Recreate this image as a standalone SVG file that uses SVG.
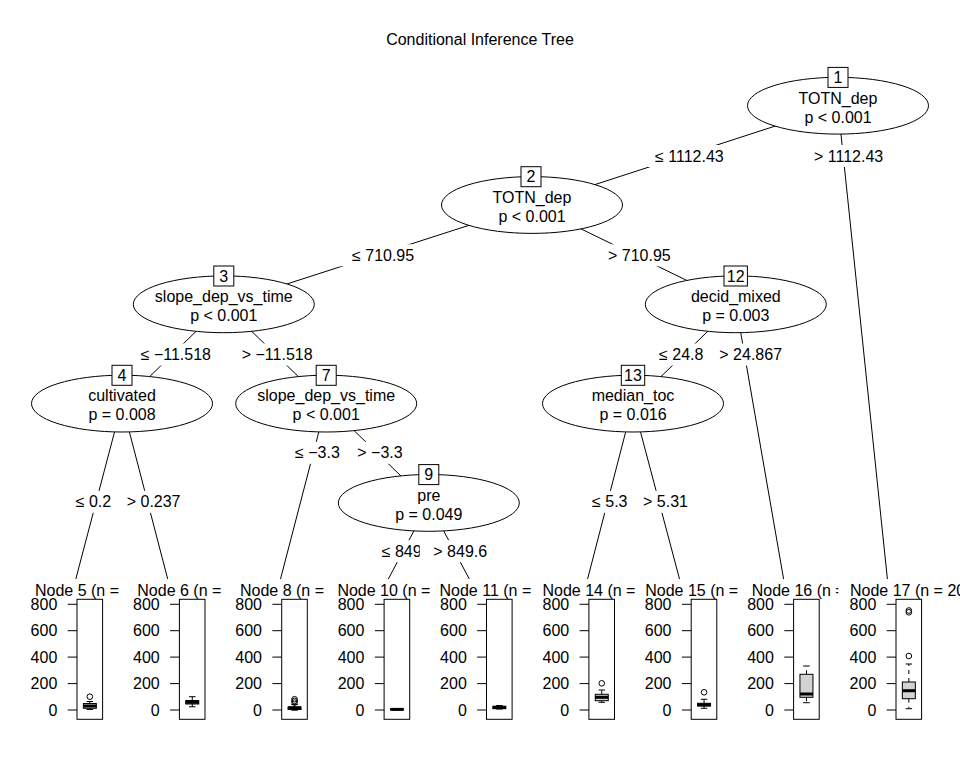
<svg xmlns="http://www.w3.org/2000/svg" xmlns:xlink="http://www.w3.org/1999/xlink" width="960" height="768" viewBox="0 0 960 768">
<style>
text{font-family:"Liberation Sans",Arial,sans-serif;font-size:16px;fill:#000}
.m{text-anchor:middle}
.e{text-anchor:end}
.edge line{stroke:#000;stroke-width:1}
.ell{fill:#fff;stroke:#000;stroke-width:1}
.nb{fill:#fff;stroke:#000;stroke-width:1}
.lbg{fill:#fff;stroke:none}
.frame{fill:none;stroke:#000;stroke-width:1}
.tick{stroke:#000;stroke-width:1}
.bx{fill:#d3d3d3;stroke:#000;stroke-width:1}
.med{stroke:#000;stroke-width:3}
.wh{stroke:#000;stroke-width:1;stroke-dasharray:4 4}
.cap{stroke:#000;stroke-width:1}
.out{fill:none;stroke:#000;stroke-width:1}
</style>
<defs>
<g id="axis">
<rect class="frame" x="0" y="599.3" width="25.6" height="120"/>
<line class="tick" x1="-9.3" y1="604.3" x2="0" y2="604.3"/>
<line class="tick" x1="-9.3" y1="630.7" x2="0" y2="630.7"/>
<line class="tick" x1="-9.3" y1="657.1" x2="0" y2="657.1"/>
<line class="tick" x1="-9.3" y1="683.6" x2="0" y2="683.6"/>
<line class="tick" x1="-9.3" y1="710" x2="0" y2="710"/>
<text class="e" x="-19.7" y="610">800</text>
<text class="e" x="-19.7" y="636.4">600</text>
<text class="e" x="-19.7" y="662.8">400</text>
<text class="e" x="-19.7" y="689.3">200</text>
<text class="e" x="-19.7" y="715.7">0</text>
</g>
<clipPath id="c16"><rect x="740" y="570" width="98.3" height="40"/></clipPath>
</defs>
<rect x="0" y="0" width="960" height="768" fill="#fff"/>
<text class="m" x="480" y="45">Conditional Inference Tree</text>

<g id="connectors" class="edge">
<line x1="838" y1="105.7" x2="532" y2="205"/>
<line x1="838" y1="105.7" x2="887.4" y2="579"/>
<line x1="532" y1="205" x2="223.8" y2="304.3"/>
<line x1="532" y1="205" x2="735.8" y2="304.3"/>
<line x1="223.8" y1="304.3" x2="122" y2="403.6"/>
<line x1="223.8" y1="304.3" x2="326.2" y2="403.6"/>
<line x1="122" y1="403.6" x2="75.8" y2="579"/>
<line x1="122" y1="403.6" x2="167.7" y2="579"/>
<line x1="326.2" y1="403.6" x2="280.5" y2="579"/>
<line x1="326.2" y1="403.6" x2="428.8" y2="502.9"/>
<line x1="428.8" y1="502.9" x2="388.3" y2="579"/>
<line x1="428.8" y1="502.9" x2="469.3" y2="579"/>
<line x1="735.8" y1="304.3" x2="633" y2="403.6"/>
<line x1="735.8" y1="304.3" x2="783.6" y2="579"/>
<line x1="633" y1="403.6" x2="587.6" y2="579"/>
<line x1="633" y1="403.6" x2="679.5" y2="579"/>
<!-- edge labels -->
<rect class="lbg" x="641.5" y="145" width="98.1" height="22"/><text x="655" y="161.5">≤ 1112.43</text>
<rect class="lbg" x="800.5" y="145" width="98.6" height="22"/><text x="814" y="161.5">&gt; 1112.43</text>
<rect class="lbg" x="338.5" y="244.3" width="89.2" height="22"/><text x="352" y="260.8">≤ 710.95</text>
<rect class="lbg" x="594.5" y="244.3" width="89.7" height="22"/><text x="608" y="260.8">&gt; 710.95</text>
<rect class="lbg" x="127.2" y="343.5" width="98.5" height="22"/><text x="140.7" y="360">≤ −11.518</text>
<rect class="lbg" x="228.2" y="343.5" width="99.1" height="22"/><text x="241.7" y="360">&gt; −11.518</text>
<rect class="lbg" x="645.5" y="343.5" width="71.4" height="22"/><text x="659" y="360">≤ 24.8</text>
<rect class="lbg" x="705.8" y="343.5" width="89.7" height="22"/><text x="719.3" y="360">&gt; 24.867</text>
<rect class="lbg" x="62.2" y="490.8" width="62.5" height="22"/><text x="75.7" y="507.3">≤ 0.2</text>
<rect class="lbg" x="113.2" y="490.8" width="80.8" height="22"/><text x="126.7" y="507.3">&gt; 0.237</text>
<rect class="lbg" x="578.5" y="490.8" width="62.5" height="22"/><text x="592" y="507.3">≤ 5.3</text>
<rect class="lbg" x="629.5" y="490.8" width="71.9" height="22"/><text x="643" y="507.3">&gt; 5.31</text>
<rect class="lbg" x="281.5" y="441.8" width="71.8" height="22"/><text x="295" y="458.3">≤ −3.3</text>
<rect class="lbg" x="343.8" y="441.8" width="72.4" height="22"/><text x="357.3" y="458.3">&gt; −3.3</text>
<rect class="lbg" x="368.2" y="540.2" width="66.9" height="22"/><text x="381.7" y="556.7">≤ 849</text>
<rect class="lbg" x="419.8" y="540.2" width="80.8" height="22"/><text x="433.3" y="556.7">&gt; 849.6</text>
</g>

<g id="node1">
<ellipse class="ell" cx="838" cy="105.7" rx="90.5" ry="28.4"/>
<text class="m" x="838" y="103.5">TOTN_dep</text><text class="m" x="838" y="122.5">p &lt; 0.001</text>
<rect class="nb" x="828" y="67.4" width="20" height="20"/><text class="m" x="838" y="83.1">1</text>
</g>
<g id="node2">
<ellipse class="ell" cx="532" cy="205" rx="90.5" ry="28.4"/>
<text class="m" x="532" y="202.8">TOTN_dep</text><text class="m" x="532" y="221.8">p &lt; 0.001</text>
<rect class="nb" x="521" y="166.7" width="20" height="20"/><text class="m" x="531" y="182.4">2</text>
</g>
<g id="node3">
<ellipse class="ell" cx="223.8" cy="304.3" rx="90.5" ry="28.4"/>
<text class="m" x="223.8" y="302.1">slope_dep_vs_time</text><text class="m" x="223.8" y="321.1">p &lt; 0.001</text>
<rect class="nb" x="213.8" y="266" width="20" height="20"/><text class="m" x="223.8" y="281.7">3</text>
</g>
<g id="node4">
<ellipse class="ell" cx="122" cy="403.6" rx="90.5" ry="28.4"/>
<text class="m" x="122" y="401.4">cultivated</text><text class="m" x="122" y="420.4">p = 0.008</text>
<rect class="nb" x="112" y="365.3" width="20" height="20"/><text class="m" x="122" y="381">4</text>
</g>
<g id="node7">
<ellipse class="ell" cx="326.2" cy="403.6" rx="90.5" ry="28.4"/>
<text class="m" x="326.2" y="401.4">slope_dep_vs_time</text><text class="m" x="326.2" y="420.4">p &lt; 0.001</text>
<rect class="nb" x="316.2" y="365.3" width="20" height="20"/><text class="m" x="326.2" y="381">7</text>
</g>
<g id="node9">
<ellipse class="ell" cx="428.8" cy="502.9" rx="90.5" ry="28.4"/>
<text class="m" x="428.8" y="500.7">pre</text><text class="m" x="428.8" y="519.7">p = 0.049</text>
<rect class="nb" x="418.8" y="464.6" width="20" height="20"/><text class="m" x="428.8" y="480.3">9</text>
</g>
<g id="node12">
<ellipse class="ell" cx="735.8" cy="304.3" rx="90.5" ry="28.4"/>
<text class="m" x="735.8" y="302.1">decid_mixed</text><text class="m" x="735.8" y="321.1">p = 0.003</text>
<rect class="nb" x="724" y="266" width="23.4" height="20"/><text class="m" x="735.7" y="281.7">12</text>
</g>
<g id="node13">
<ellipse class="ell" cx="633" cy="403.6" rx="90.5" ry="28.4"/>
<text class="m" x="633" y="401.4">median_toc</text><text class="m" x="633" y="420.4">p = 0.016</text>
<rect class="nb" x="621.3" y="365.3" width="23.4" height="20"/><text class="m" x="633" y="381">13</text>
</g>

<g id="node5">
<text x="35" y="596">Node 5 (n =</text>
<use xlink:href="#axis" transform="translate(77,0)"/>
<line class="wh" x1="89.85" y1="703.5" x2="89.85" y2="701.5"/><line class="cap" x1="86.6" y1="701.5" x2="93.1" y2="701.5"/>
<line class="wh" x1="89.85" y1="708.3" x2="89.85" y2="709.5"/><line class="cap" x1="86.6" y1="709.5" x2="93.1" y2="709.5"/>
<rect class="bx" x="83.35" y="703.5" width="13" height="4.8"/>
<line class="med" x1="83.35" y1="706" x2="96.35" y2="706"/>
<circle class="out" cx="89.85" cy="696.7" r="2.8"/>
</g>
<g id="node6">
<text x="137.3" y="596">Node 6 (n =</text>
<use xlink:href="#axis" transform="translate(179.4,0)"/>
<line class="wh" x1="192.25" y1="700.5" x2="192.25" y2="696.7"/><line class="cap" x1="189" y1="696.7" x2="195.5" y2="696.7"/>
<line class="wh" x1="192.25" y1="704" x2="192.25" y2="706.8"/><line class="cap" x1="189" y1="706.8" x2="195.5" y2="706.8"/>
<rect class="bx" x="185.75" y="700.5" width="13" height="3.5"/>
<line class="med" x1="185.75" y1="702.3" x2="198.75" y2="702.3"/>
</g>
<g id="node8">
<text x="240" y="596">Node 8 (n =</text>
<use xlink:href="#axis" transform="translate(281.7,0)"/>
<line class="wh" x1="294.55" y1="707" x2="294.55" y2="704.5"/><line class="cap" x1="291.3" y1="704.5" x2="297.8" y2="704.5"/>
<line class="wh" x1="294.55" y1="709.5" x2="294.55" y2="710.2"/><line class="cap" x1="291.3" y1="710.2" x2="297.8" y2="710.2"/>
<rect class="bx" x="288.05" y="707" width="13" height="2.5"/>
<line class="med" x1="288.05" y1="707.8" x2="301.05" y2="707.8"/>
<circle class="out" cx="294.55" cy="699.2" r="2.8"/>
<circle class="out" cx="294.55" cy="700.9" r="2.8"/>
<circle class="out" cx="294.55" cy="702.6" r="2.8"/>
</g>
<g id="node10">
<text x="337.4" y="596">Node 10 (n =</text>
<use xlink:href="#axis" transform="translate(384.1,0)"/>
<line class="cap" x1="393.7" y1="708.8" x2="400.2" y2="708.8"/>
<line class="cap" x1="393.7" y1="710" x2="400.2" y2="710"/>
<rect class="bx" x="390.45" y="709" width="13" height="0.8"/>
<line class="med" x1="390.45" y1="709.4" x2="403.45" y2="709.4"/>
</g>
<g id="node11">
<text x="439.5" y="596">Node 11 (n =</text>
<use xlink:href="#axis" transform="translate(486.5,0)"/>
<line class="cap" x1="496.1" y1="705.5" x2="502.6" y2="705.5"/>
<line class="cap" x1="496.1" y1="709" x2="502.6" y2="709"/>
<rect class="bx" x="492.85" y="706.2" width="13" height="2.4"/>
<line class="med" x1="492.85" y1="707.6" x2="505.85" y2="707.6"/>
</g>
<g id="node14">
<text x="542.5" y="596">Node 14 (n =</text>
<use xlink:href="#axis" transform="translate(588.9,0)"/>
<line class="wh" x1="601.75" y1="694.3" x2="601.75" y2="690"/><line class="cap" x1="598.5" y1="690" x2="605" y2="690"/>
<line class="wh" x1="601.75" y1="700.7" x2="601.75" y2="702.3"/><line class="cap" x1="598.5" y1="702.3" x2="605" y2="702.3"/>
<rect class="bx" x="595.25" y="694.3" width="13" height="6.4"/>
<line class="med" x1="595.25" y1="697.3" x2="608.25" y2="697.3"/>
<circle class="out" cx="601.75" cy="683.3" r="2.8"/>
</g>
<g id="node15">
<text x="645.2" y="596">Node 15 (n =</text>
<use xlink:href="#axis" transform="translate(691.2,0)"/>
<line class="wh" x1="704.05" y1="703.3" x2="704.05" y2="699.3"/><line class="cap" x1="700.8" y1="699.3" x2="707.3" y2="699.3"/>
<line class="wh" x1="704.05" y1="706" x2="704.05" y2="708.3"/><line class="cap" x1="700.8" y1="708.3" x2="707.3" y2="708.3"/>
<rect class="bx" x="697.55" y="703.3" width="13" height="2.7"/>
<line class="med" x1="697.55" y1="704.8" x2="710.55" y2="704.8"/>
<circle class="out" cx="704.05" cy="692.3" r="2.8"/>
</g>
<g id="node16">
<text x="751.7" y="596" clip-path="url(#c16)">Node 16 (n =</text>
<use xlink:href="#axis" transform="translate(793.6,0)"/>
<line class="wh" x1="806.45" y1="674.3" x2="806.45" y2="666"/><line class="cap" x1="803.2" y1="666" x2="809.7" y2="666"/>
<line class="wh" x1="806.45" y1="697.3" x2="806.45" y2="702.7"/><line class="cap" x1="803.2" y1="702.7" x2="809.7" y2="702.7"/>
<rect class="bx" x="799.95" y="674.3" width="13" height="23"/>
<line class="med" x1="799.95" y1="694" x2="812.95" y2="694"/>
</g>
<g id="node17">
<text x="850" y="596">Node 17 (n = 20</text>
<use xlink:href="#axis" transform="translate(896,0)"/>
<line class="wh" x1="908.85" y1="682" x2="908.85" y2="664"/><line class="cap" x1="905.6" y1="664" x2="912.1" y2="664"/>
<line class="wh" x1="908.85" y1="698.7" x2="908.85" y2="708.7"/><line class="cap" x1="905.6" y1="708.7" x2="912.1" y2="708.7"/>
<rect class="bx" x="902.35" y="682" width="13" height="16.7"/>
<line class="med" x1="902.35" y1="690.7" x2="915.35" y2="690.7"/>
<circle class="out" cx="908.85" cy="656" r="2.8"/>
<circle class="out" cx="908.85" cy="610.5" r="2.8"/>
<circle class="out" cx="908.85" cy="612.3" r="2.8"/>
</g>
</svg>
